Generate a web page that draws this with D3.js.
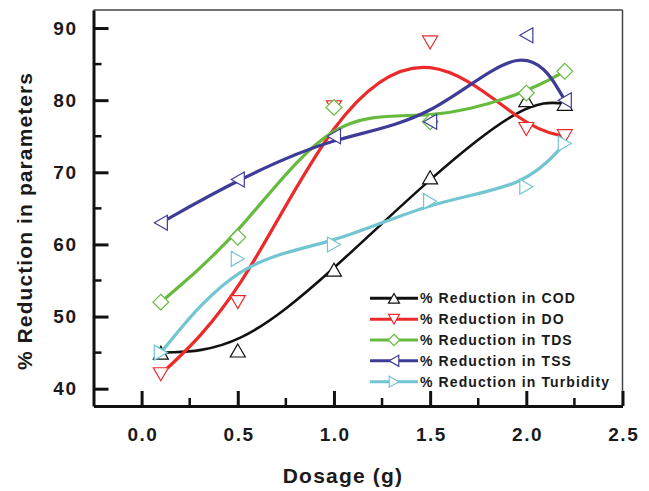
<!DOCTYPE html>
<html>
<head>
<meta charset="utf-8">
<script src="https://cdn.jsdelivr.net/npm/d3@7"></script>
<style>
  html, body { margin: 0; padding: 0; background: #fff; }
  svg { display: block; }
  text { font-family: "Liberation Sans", Arial, sans-serif; font-weight: bold; fill: #1a1a1a; }
</style>
</head>
<body>
<svg id="chart" width="649" height="491"></svg>
<script>
// Dosage levels (g)
const dosage = [0.1, 0.5, 1.0, 1.5, 2.0, 2.2];

// % reduction for each water-quality parameter
const codValues       = [45, 45.3, 56.5, 69.3, 80, 79.5];
const doValues        = [42, 52, 79, 88, 76, 75];
const tdsValues       = [52, 61, 79, 77, 81, 84];
const tssValues       = [63, 69, 75, 77, 89, 80];
const turbidityValues = [45, 58, 60, 66, 68, 74];

const seriesNames = [
  "% Reduction in COD",
  "% Reduction in DO",
  "% Reduction in TDS",
  "% Reduction in TSS",
  "% Reduction in Turbidity"
];

const xTickValues = [0.0, 0.5, 1.0, 1.5, 2.0, 2.5];
const yTickValues = [40, 50, 60, 70, 80, 90];

const xTitle = "Dosage (g)";
const yTitle = "% Reduction in parameters";

const colors  = ["#111111", "#ec2a2a", "#66bb3e", "#3f3c98", "#72c6d2"];
const symbols = ["up", "down", "diamond", "left", "right"];

const series = [codValues, doValues, tdsValues, tssValues, turbidityValues].map((vals, i) => ({
  name: seriesNames[i],
  color: colors[i],
  symbol: symbols[i],
  points: vals.map((v, j) => ({ x: dosage[j], y: v }))
}));

const svg = d3.select("#chart");
const plotLeft = 93.5, plotRight = 622.5, plotTop = 10, plotBottom = 406;

const x = d3.scaleLinear().domain([-0.25, 2.5]).range([plotLeft, plotRight]);
const y = d3.scaleLinear().domain([37.6, 92.5]).range([plotBottom, plotTop]);

// Marker outlines, r = half size
function markerPath(type, r) {
  const h = r * 0.87;
  switch (type) {
    case "up":    return `M0,${-h}L${r},${h}L${-r},${h}Z`;
    case "down":  return `M0,${h}L${r},${-h}L${-r},${-h}Z`;
    case "left":  return `M${-h},0L${h},${-r}L${h},${r}Z`;
    case "right": return `M${h},0L${-h},${-r}L${-h},${r}Z`;
    case "diamond": return `M0,${-r * 1.05}L${r * 1.05},0L0,${r * 1.05}L${-r * 1.05},0Z`;
  }
}

// Frame: thin top/right, heavy left/bottom axes
svg.append("line").attr("x1", plotLeft).attr("x2", plotRight).attr("y1", plotTop).attr("y2", plotTop)
  .attr("stroke", "#444").attr("stroke-width", 1.3);
svg.append("line").attr("x1", plotRight).attr("x2", plotRight).attr("y1", plotTop).attr("y2", plotBottom)
  .attr("stroke", "#444").attr("stroke-width", 1.5);

// Axes with inward ticks
const xAxis = d3.axisBottom(x).tickValues(xTickValues).tickFormat(d3.format(".1f"))
  .tickSizeInner(-15).tickSizeOuter(0).tickPadding(22);
const xg = svg.append("g").attr("transform", `translate(0,${plotBottom})`).call(xAxis);
xg.select(".domain").attr("stroke", "#111").attr("stroke-width", 3);
xg.selectAll(".tick line").attr("stroke", "#111").attr("stroke-width", 3);
xg.selectAll(".tick text").attr("font-size", 19).attr("letter-spacing", "1.5px")
  .attr("fill", "#1a1a1a").attr("dy", "0.71em").attr("dx", "0.75");

const xMinor = d3.range(0.25, 2.5, 0.5);
svg.append("g").selectAll("line").data(xMinor).join("line")
  .attr("x1", d => x(d)).attr("x2", d => x(d)).attr("y1", plotBottom).attr("y2", plotBottom - 8)
  .attr("stroke", "#111").attr("stroke-width", 2.5);

const yAxis = d3.axisLeft(y).tickValues(yTickValues).tickFormat(d3.format("d"))
  .tickSizeInner(-15).tickSizeOuter(0).tickPadding(0);
const yg = svg.append("g").attr("transform", `translate(${plotLeft},0)`).call(yAxis);
yg.select(".domain").attr("stroke", "#111").attr("stroke-width", 3);
yg.selectAll(".tick line").attr("stroke", "#111").attr("stroke-width", 3);
yg.selectAll(".tick text").attr("font-size", 19).attr("letter-spacing", "1.5px")
  .attr("fill", "#1a1a1a").attr("x", 76 + 1.5 - plotLeft);

const yMinor = d3.range(45, 90, 10);
svg.append("g").selectAll("line").data(yMinor).join("line")
  .attr("x1", plotLeft).attr("x2", plotLeft + 8).attr("y1", d => y(d)).attr("y2", d => y(d))
  .attr("stroke", "#111").attr("stroke-width", 2.5);

// Axis titles
svg.append("text").attr("x", 343).attr("y", 483).attr("text-anchor", "middle")
  .attr("font-size", 21).attr("letter-spacing", "1.2px").text(xTitle);
svg.append("text").attr("transform", "translate(32,221) rotate(-90)").attr("text-anchor", "middle")
  .attr("font-size", 21).attr("letter-spacing", "1.1px").text(yTitle);

// Smoothed curves and markers
const line = d3.line().x(d => x(d.x)).y(d => y(d.y)).curve(d3.curveBasis);

series.forEach(s => {
  const g = svg.append("g");
  g.append("path").datum(s.points).attr("d", line)
    .attr("fill", "none").attr("stroke", s.color)
    .attr("stroke-width", s.symbol === "up" ? 2.6 : 3.2)
    .attr("stroke-linecap", "round");
  g.selectAll("path.m").data(s.points).join("path").attr("class", "m")
    .attr("transform", d => `translate(${x(d.x)},${y(d.y)})`)
    .attr("d", markerPath(s.symbol, 7.5))
    .attr("fill", "#fff").attr("stroke", s.color).attr("stroke-width", 1.2);
});

// Legend
const legend = svg.append("g");
series.forEach((s, i) => {
  const ly = 298.3 + i * 20.85;
  legend.append("line").attr("x1", 370).attr("x2", 418).attr("y1", ly).attr("y2", ly)
    .attr("stroke", s.color).attr("stroke-width", 3);
  legend.append("path").attr("transform", `translate(394,${ly})`)
    .attr("d", markerPath(s.symbol, 5.5))
    .attr("fill", "#fff").attr("stroke", s.color).attr("stroke-width", 1.2);
  legend.append("text").attr("x", 420).attr("y", ly + 5)
    .attr("font-size", 14).attr("letter-spacing", "1.1px").text(s.name);
});
</script>
</body>
</html>
